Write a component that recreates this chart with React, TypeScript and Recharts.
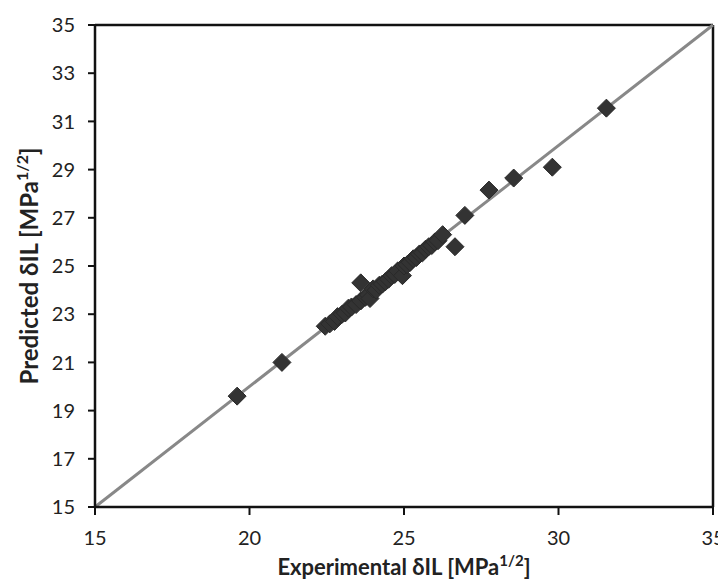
import React from 'react';
import {
  ScatterChart, Scatter, XAxis, YAxis, ReferenceLine,
} from 'recharts';

// experimental vs predicted solubility parameter (MPa^1/2)
const EXPERIMENTAL = [
  19.6, 21.05,
  22.45, 22.6, 22.75, 22.85, 23.0, 23.1, 23.2, 23.3, 23.45, 23.6, 23.6,
  23.75, 23.85, 23.9, 24.0, 24.1, 24.2, 24.3, 24.4, 24.5, 24.6, 24.7,
  24.8, 24.95, 25.0, 25.1, 25.2, 25.3, 25.4, 25.5, 25.6, 25.7, 25.8,
  25.9, 26.0, 26.1, 26.25,
  26.65, 26.97, 27.75, 28.55, 29.8, 31.55,
];
const PREDICTED = [
  19.6, 21.0,
  22.5, 22.6, 22.7, 22.9, 23.0, 23.05, 23.25, 23.3, 23.4, 24.3, 23.55,
  23.7, 23.8, 23.65, 24.05, 24.0, 24.2, 24.25, 24.35, 24.45, 24.6, 24.65,
  24.8, 24.6, 25.0, 25.05, 25.15, 25.3, 25.35, 25.5, 25.55, 25.7, 25.8,
  25.85, 26.0, 26.05, 26.3,
  25.8, 27.1, 28.15, 28.65, 29.1, 31.55,
];
const X_TICKS = [15, 20, 25, 30, 35];
const Y_TICKS = [15, 17, 19, 21, 23, 25, 27, 29, 31, 33, 35];

const points = EXPERIMENTAL.map((x, i) => ({ x, y: PREDICTED[i] }));

const FONT = 'Lato, "Open Sans", sans-serif';

const Diamond = (props: any) => {
  const { cx, cy } = props;
  const r = 9;
  return (
    <polygon
      points={`${cx},${cy - r} ${cx + r},${cy} ${cx},${cy + r} ${cx - r},${cy}`}
      fill="#333"
      stroke="#2a2a2a"
      strokeWidth={1}
      strokeLinejoin="round"
    />
  );
};

const XTitle = (props: any) => {
  const vb = props.viewBox || {};
  const x = vb.x + vb.width / 2;
  return (
    <text x={x} y={567} textAnchor="middle" fontFamily={FONT} fontWeight="bold" fontSize={22} fill="#222">
      Experimental δIL [MPa
      <tspan fontSize={15} dy={-9}>1/2</tspan>
      <tspan dy={9}>]</tspan>
    </text>
  );
};

const YTitle = (props: any) => {
  const vb = props.viewBox || {};
  const cy = vb.y + vb.height / 2;
  const cx = 22;
  return (
    <text
      x={cx}
      y={cy + 8}
      transform={`rotate(-90 ${cx} ${cy})`}
      textAnchor="middle"
      fontFamily={FONT}
      fontWeight="bold"
      fontSize={24}
      fill="#222"
    >
      Predicted δIL [MPa
      <tspan fontSize={16} dy={-10}>1/2</tspan>
      <tspan dy={10}>]</tspan>
    </text>
  );
};

export default function App() {
  const tick = { fill: '#222', fontSize: 20, fontFamily: FONT };
  return (
    <div style={{ width: 718, height: 578, background: '#fff' }}>
      <ScatterChart
        width={718}
        height={578}
        margin={{ top: 17, right: 13, left: 27, bottom: 39 }}
      >
        <XAxis
          type="number"
          dataKey="x"
          domain={[15, 35]}
          ticks={X_TICKS}
          interval={0}
          allowDataOverflow
          height={40}
          tickSize={8}
          tickMargin={16}
          tick={tick}
          axisLine={{ stroke: '#111', strokeWidth: 2.5 }}
          tickLine={{ stroke: '#111', strokeWidth: 2 }}
          label={<XTitle />}
        />
        <YAxis
          type="number"
          dataKey="y"
          domain={[15, 35]}
          ticks={Y_TICKS}
          interval={0}
          allowDataOverflow
          width={60}
          tickSize={7}
          tickMargin={13}
          tick={tick}
          axisLine={{ stroke: '#111', strokeWidth: 2.5 }}
          tickLine={{ stroke: '#111', strokeWidth: 2 }}
          label={<YTitle />}
        />
        <ReferenceLine y={35} stroke="#111" strokeWidth={2.5} />
        <ReferenceLine x={35} stroke="#111" strokeWidth={2.5} />
        <ReferenceLine
          segment={[{ x: 15, y: 15 }, { x: 35, y: 35 }]}
          stroke="#888"
          strokeWidth={3}
        />
        <Scatter data={points} shape={<Diamond />} isAnimationActive={false} />
      </ScatterChart>
    </div>
  );
}
